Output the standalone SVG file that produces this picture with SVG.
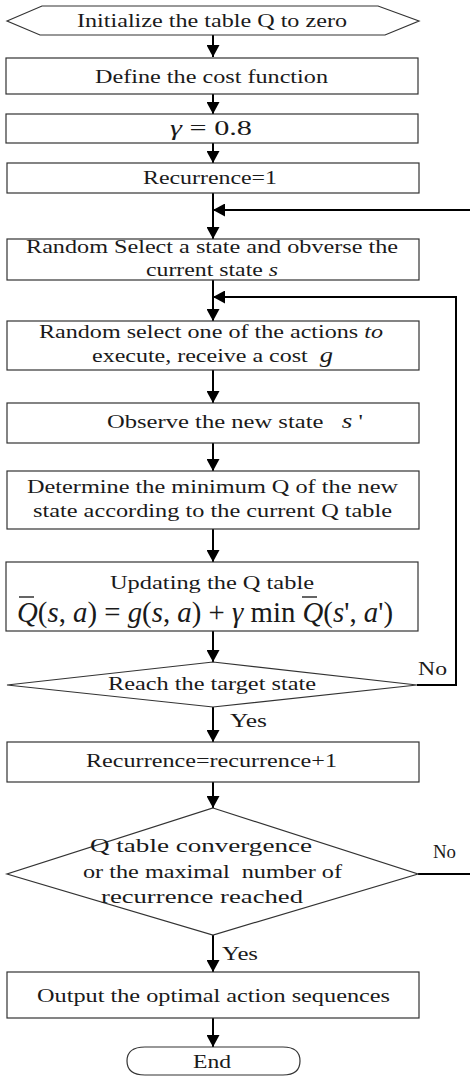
<svg xmlns="http://www.w3.org/2000/svg" width="470" height="1076" viewBox="0 0 470 1076">
<style>
.n{fill:#fff;stroke:#333;stroke-width:1.2}
.t{font-family:"Liberation Serif","Times New Roman",serif;font-size:19px;fill:#1a1a1a}
.c{fill:none;stroke:#000;stroke-width:2}
.i{font-style:italic}
.big{font-size:21px}
.f{font-size:29px}
</style>
<defs>
<marker id="ah" viewBox="0 0 12 13" refX="12" refY="6.5" markerWidth="12" markerHeight="13" markerUnits="userSpaceOnUse" orient="auto">
<path d="M0,0 L12,6.5 L0,13 Z" fill="#000"/>
</marker>
</defs>
<rect width="470" height="1076" fill="#fff"/>
<g id="connectors">
<line class="c" x1="213" y1="35" x2="213" y2="57" marker-end="url(#ah)"/>
<line class="c" x1="213" y1="94" x2="213" y2="114" marker-end="url(#ah)"/>
<line class="c" x1="213" y1="143" x2="213" y2="163" marker-end="url(#ah)"/>
<line class="c" x1="213" y1="193" x2="213" y2="239" marker-end="url(#ah)"/>
<line class="c" x1="470" y1="210" x2="213" y2="210" marker-end="url(#ah)"/>
<line class="c" x1="213" y1="280" x2="213" y2="321" marker-end="url(#ah)"/>
<polyline class="c" points="417,685 456,685 456,297 213,297" marker-end="url(#ah)"/>
<line class="c" x1="213" y1="370" x2="213" y2="403" marker-end="url(#ah)"/>
<line class="c" x1="213" y1="443" x2="213" y2="471" marker-end="url(#ah)"/>
<line class="c" x1="213" y1="529" x2="213" y2="562" marker-end="url(#ah)"/>
<line class="c" x1="213" y1="631" x2="213" y2="662" marker-end="url(#ah)"/>
<line class="c" x1="213" y1="707" x2="213" y2="742" marker-end="url(#ah)"/>
<line class="c" x1="213" y1="782" x2="213" y2="808" marker-end="url(#ah)"/>
<line class="c" x1="418" y1="874" x2="470" y2="874"/>
<line class="c" x1="213" y1="935" x2="213" y2="972" marker-end="url(#ah)"/>
<line class="c" x1="213" y1="1018" x2="213" y2="1047" marker-end="url(#ah)"/>
<text class="t" x="418" y="675" textLength="29" lengthAdjust="spacingAndGlyphs">No</text>
<text class="t" x="230" y="727" textLength="37" lengthAdjust="spacingAndGlyphs">Yes</text>
<text class="t" x="433" y="858" textLength="23" lengthAdjust="spacingAndGlyphs">No</text>
<text class="t" x="222" y="960" textLength="36" lengthAdjust="spacingAndGlyphs">Yes</text>
</g>
<g id="n1">
<polygon class="n" points="7,21 42,6 378,6 419,21 385,35 40,35"/>
<text class="t" x="77" y="27" textLength="270" lengthAdjust="spacingAndGlyphs">Initialize the table Q to zero</text>
</g>
<g id="n2">
<rect class="n" x="6" y="58" width="412" height="36"/>
<text class="t" x="95" y="83" textLength="233" lengthAdjust="spacingAndGlyphs">Define the cost function</text>
</g>
<g id="n3">
<rect class="n" x="6" y="114" width="412" height="29"/>
<text class="t big" x="170" y="135" textLength="82" lengthAdjust="spacingAndGlyphs"><tspan class="i">γ</tspan> = 0.8</text>
</g>
<g id="n4">
<rect class="n" x="7" y="163" width="412" height="30"/>
<text class="t" x="143" y="184" textLength="134" lengthAdjust="spacingAndGlyphs">Recurrence=1</text>
</g>
<g id="n5">
<rect class="n" x="7" y="239" width="412" height="41"/>
<text class="t" x="26" y="253" textLength="372" lengthAdjust="spacingAndGlyphs">Random Select a state and obverse the</text>
<text class="t" x="146" y="276" textLength="132" lengthAdjust="spacingAndGlyphs">current state <tspan class="i">s</tspan></text>
</g>
<g id="n6">
<rect class="n" x="7" y="321" width="412" height="49"/>
<text class="t" x="39" y="338" textLength="344" lengthAdjust="spacingAndGlyphs">Random select one of the actions <tspan class="i">to</tspan></text>
<text class="t" x="92" y="362" textLength="241" lengthAdjust="spacingAndGlyphs" xml:space="preserve">execute, receive a cost  <tspan class="i big">g</tspan></text>
</g>
<g id="n7">
<rect class="n" x="7" y="403" width="412" height="40"/>
<text class="t" x="107" y="428" textLength="256" lengthAdjust="spacingAndGlyphs" xml:space="preserve">Observe the new state   <tspan class="i big">s</tspan> '</text>
</g>
<g id="n8">
<rect class="n" x="7" y="471" width="412" height="58"/>
<text class="t" x="27" y="493" textLength="371" lengthAdjust="spacingAndGlyphs">Determine the minimum Q of the new</text>
<text class="t" x="33" y="517" textLength="359" lengthAdjust="spacingAndGlyphs">state according to the current Q table</text>
</g>
<g id="n9">
<rect class="n" x="6" y="562" width="412" height="69"/>
<text class="t" x="110" y="589" textLength="204" lengthAdjust="spacingAndGlyphs">Updating the Q table</text>
<text class="t f" x="17" y="622" textLength="376" lengthAdjust="spacingAndGlyphs"><tspan class="i">Q</tspan>(<tspan class="i">s</tspan>, <tspan class="i">a</tspan>) = <tspan class="i">g</tspan>(<tspan class="i">s</tspan>, <tspan class="i">a</tspan>) + <tspan class="i">γ</tspan> min <tspan class="i">Q</tspan>(<tspan class="i">s</tspan>', <tspan class="i">a</tspan>')</text>
<line x1="19" y1="597" x2="34" y2="597" stroke="#111" stroke-width="1.3"/>
<line x1="302" y1="597" x2="317" y2="597" stroke="#111" stroke-width="1.3"/>
</g>
<g id="n10">
<polygon class="n" points="213,662 417,685 213,707 7,685"/>
<text class="t" x="108" y="690" textLength="208" lengthAdjust="spacingAndGlyphs">Reach the target state</text>
</g>
<g id="n11">
<rect class="n" x="7" y="742" width="412" height="40"/>
<text class="t" x="86" y="767" textLength="251" lengthAdjust="spacingAndGlyphs">Recurrence=recurrence+1</text>
</g>
<g id="n12">
<polygon class="n" points="213,808 418,874 213,935 7,874"/>
<text class="t" x="90" y="852" textLength="222" lengthAdjust="spacingAndGlyphs">Q table convergence</text>
<text class="t" x="83" y="878" textLength="259" lengthAdjust="spacingAndGlyphs" xml:space="preserve">or the maximal  number of</text>
<text class="t" x="101" y="903" textLength="202" lengthAdjust="spacingAndGlyphs">recurrence reached</text>
</g>
<g id="n13">
<rect class="n" x="7" y="972" width="412" height="46"/>
<text class="t" x="37" y="1002" textLength="353" lengthAdjust="spacingAndGlyphs">Output the optimal action sequences</text>
</g>
<g id="n14">
<path class="n" d="M145,1047 H283 Q300,1047 300,1061 Q300,1075 283,1075 H145 Q127,1075 127,1061 Q127,1047 145,1047 Z"/>
<text class="t" x="193" y="1068" textLength="38" lengthAdjust="spacingAndGlyphs">End</text>
</g>
</svg>
